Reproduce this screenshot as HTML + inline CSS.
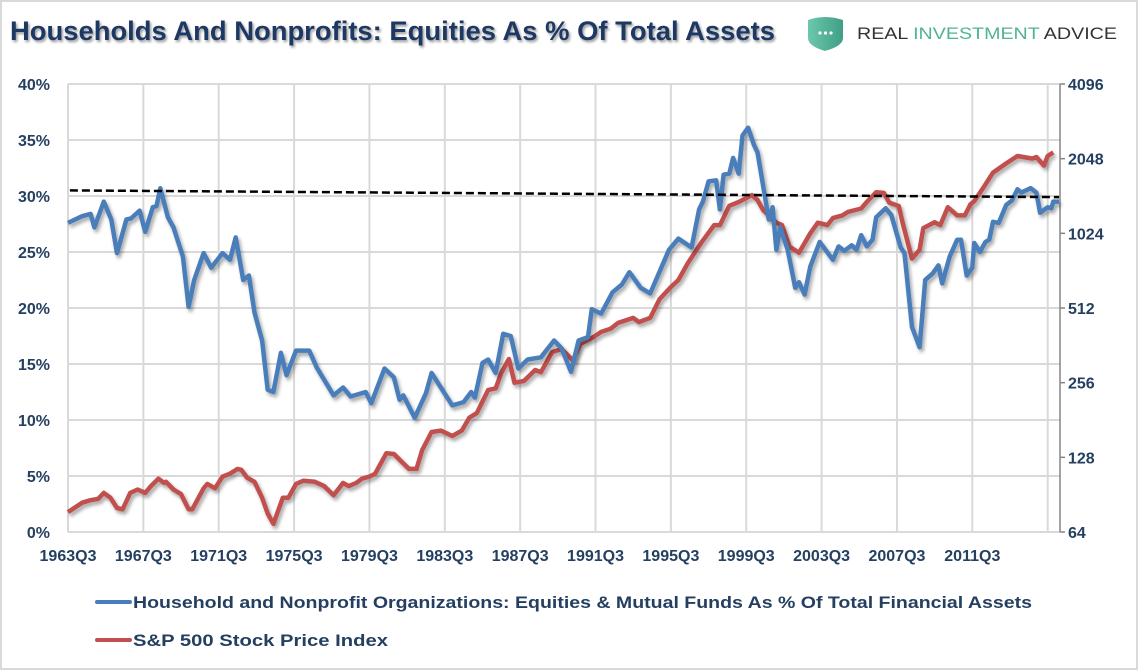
<!DOCTYPE html>
<html><head><meta charset="utf-8"><style>
html,body{margin:0;padding:0;background:#fff;}
svg{display:block;}
text{font-family:"Liberation Sans",sans-serif;}
</style></head><body>
<svg id="chart" width="1140" height="672" viewBox="0 0 1140 672" xmlns="http://www.w3.org/2000/svg">
<defs>
<filter id="sh" x="-5%" y="-5%" width="110%" height="115%"><feDropShadow dx="2" dy="3" stdDeviation="1.8" flood-color="#000" flood-opacity="0.35"/></filter>
<filter id="tsh" x="-5%" y="-20%" width="110%" height="150%"><feDropShadow dx="1.5" dy="2" stdDeviation="1.2" flood-color="#000" flood-opacity="0.4"/></filter>
<linearGradient id="shg" x1="0" x2="1"><stop offset="0" stop-color="#6cc7ae"/><stop offset="1" stop-color="#3f9f86"/></linearGradient>
</defs>
<rect x="1" y="1" width="1136" height="668" fill="#fff" stroke="#d9d9d9" stroke-width="2"/>
<text x="10" y="40" font-size="27" font-weight="bold" fill="#1f3864" textLength="765" lengthAdjust="spacingAndGlyphs" filter="url(#tsh)">Households And Nonprofits:  Equities As % Of Total Assets</text>
<g>
<path d="M808 20 Q825 14 843 20 L843 38 Q843 46 825 51 Q808 46 808 38 Z" fill="url(#shg)"/>
<circle cx="820" cy="33" r="1.6" fill="#fff"/><circle cx="825.5" cy="33" r="1.6" fill="#fff"/><circle cx="831" cy="33" r="1.6" fill="#fff"/>
<text x="857" y="39" font-size="17" textLength="260" lengthAdjust="spacingAndGlyphs" fill="#333">REAL <tspan fill="#4fb394">INVESTMENT</tspan> ADVICE</text>
</g>
<g id="grid"></g>
<g id="axes"></g>
<g id="series"></g>
<g>
<g>
<line x1="97" y1="602" x2="130" y2="602" stroke="#4a7ebb" stroke-width="4" stroke-linecap="round"/>
<text x="133" y="608" font-size="17" font-weight="bold" fill="#243f60" textLength="899" lengthAdjust="spacingAndGlyphs">Household and Nonprofit Organizations:  Equities &amp; Mutual Funds As % Of Total Financial Assets</text>
</g>
<g>
<line x1="97" y1="640" x2="130" y2="640" stroke="#c0504d" stroke-width="4" stroke-linecap="round"/>
<text x="133" y="646" font-size="17" font-weight="bold" fill="#243f60" textLength="255" lengthAdjust="spacingAndGlyphs">S&amp;P 500 Stock Price Index</text>
</g>
</g>
</svg>
<script>
const xTickLabels=["1963Q3","1967Q3","1971Q3","1975Q3","1979Q3","1983Q3","1987Q3","1991Q3","1995Q3","1999Q3","2003Q3","2007Q3","2011Q3"];
const leftTicks=[0,5,10,15,20,25,30,35,40];
const rightTicks=[64,128,256,512,1024,2048,4096];
const blueYears=[1963.5,1964.25,1964.7,1964.9,1965.4,1965.8,1966.1,1966.6,1966.85,1967.3,1967.6,1968.0,1968.2,1968.4,1968.8,1969.1,1969.6,1969.9,1970.2,1970.7,1971.1,1971.7,1972.1,1972.4,1972.8,1973.1,1973.4,1973.8,1974.1,1974.4,1974.8,1975.1,1975.6,1976.3,1976.7,1977.6,1978.1,1978.5,1979.3,1979.6,1980.3,1980.8,1981.1,1981.3,1981.9,1982.5,1982.8,1983.9,1984.5,1984.9,1985.1,1985.5,1985.8,1986.2,1986.6,1987.0,1987.4,1987.9,1988.6,1989.3,1989.7,1990.2,1990.6,1991.1,1991.3,1991.8,1992.4,1992.9,1993.3,1993.9,1994.4,1995.4,1995.9,1996.6,1997.0,1997.2,1997.5,1997.9,1998.1,1998.3,1998.6,1998.8,1999.1,1999.3,1999.6,1999.9,2000.1,2000.7,2000.9,2001.1,2001.3,2001.7,2002.1,2002.3,2002.6,2002.9,2003.4,2004.1,2004.4,2004.7,2005.1,2005.35,2005.6,2005.9,2006.2,2006.4,2006.9,2007.2,2007.7,2007.9,2008.3,2008.7,2009.0,2009.4,2009.7,2009.9,2010.3,2010.7,2010.9,2011.2,2011.5,2011.6,2011.9,2012.2,2012.4,2012.6,2012.9,2013.3,2013.6,2013.9,2014.1,2014.6,2014.9,2015.1,2015.5,2015.7,2015.8,2016.1];
const blueValues=[27.6,28.2,28.4,27.2,29.5,27.9,24.9,27.9,28.0,28.7,26.8,29.0,29.1,30.7,28.1,27.2,24.6,20.1,22.5,24.9,23.6,24.9,24.3,26.3,22.5,22.9,19.6,17.1,12.7,12.5,16.0,14.0,16.2,16.2,14.7,12.2,12.9,12.1,12.5,11.5,14.6,13.8,11.8,12.2,10.2,12.4,14.2,11.3,11.6,12.5,12.0,15.1,15.4,14.2,17.7,17.5,14.6,15.4,15.6,17.1,16.4,14.3,17.1,17.4,19.9,19.5,21.4,22.1,23.2,21.8,21.3,25.2,26.2,25.4,28.8,29.5,31.3,31.4,28.8,31.9,32.0,33.4,32.0,35.4,36.1,34.6,33.9,27.9,29.0,25.2,27.2,25.2,21.8,22.3,21.2,23.7,25.9,24.3,25.5,25.1,25.6,25.2,26.5,25.5,26.1,28.1,28.9,28.3,25.4,24.9,18.3,16.5,22.5,23.1,23.8,22.2,24.6,26.1,26.1,22.9,23.6,25.8,25.0,25.9,26.1,27.7,27.6,29.2,29.6,30.6,30.3,30.7,30.3,28.5,29.0,28.9,29.5,29.5];
const redYears=[1963.5,1964.25,1964.7,1965.1,1965.4,1965.75,1966.1,1966.4,1966.8,1967.2,1967.6,1967.9,1968.3,1968.6,1968.7,1969.1,1969.5,1969.9,1970.1,1970.7,1970.9,1971.3,1971.7,1972.1,1972.5,1972.7,1973.0,1973.4,1973.8,1974.1,1974.4,1974.9,1975.2,1975.6,1976.0,1976.6,1977.1,1977.6,1978.1,1978.4,1978.8,1979.1,1979.5,1979.8,1980.4,1980.8,1981.2,1981.6,1982.0,1982.3,1982.8,1983.3,1983.9,1984.4,1984.8,1985.2,1985.8,1986.2,1986.5,1986.9,1987.2,1987.7,1988.3,1988.6,1989.2,1989.7,1990.3,1990.7,1991.4,1991.8,1992.3,1992.7,1993.5,1993.8,1994.4,1994.9,1995.5,1995.9,1996.4,1997.1,1997.8,1998.1,1998.6,1999.1,1999.8,2000.1,2000.4,2001.1,2001.4,2001.8,2002.3,2002.9,2003.3,2003.8,2004.1,2004.6,2004.9,2005.6,2005.9,2006.4,2006.8,2007.1,2007.6,2007.8,2008.3,2008.7,2008.9,2009.5,2009.8,2010.2,2010.7,2011.1,2011.4,2011.6,2012.1,2012.6,2013.3,2013.9,2014.7,2014.9,2015.3,2015.5,2015.8,2016.1];
const redValues=[77,84,86,87,92,88,80,79,92,95,92,98,105,101,102,95,91,79,79,96,100,96,107,110,115,114,106,102,88,76,69,88,88,100,103,102,98,90,101,98,101,105,107,110,133,132,123,115,115,137,162,164,156,164,185,193,239,243,280,319,256,260,288,282,340,350,315,367,391,410,422,446,467,449,467,556,622,664,776,935,1105,1105,1322,1370,1460,1395,1270,1130,1105,905,855,1024,1130,1105,1180,1210,1250,1290,1370,1500,1490,1360,1320,1130,810,880,1075,1135,1105,1305,1210,1210,1340,1380,1570,1800,1960,2100,2050,2080,1920,2100,2170];
const trendYears=[1963.6,2016.1];
const trendValues=[30.5,29.9];

const NS="http://www.w3.org/2000/svg";
const X0=68,X1=1060,YR0=1963.5,PXY=18.84;
const PT=84,PB=532;
function xs(yr){return X0+(yr-YR0)*PXY;}
function yl(p){return PB-(p-0)/40*(PB-PT);}
function yr(v){return PB-Math.log2(v/64)/6*(PB-PT);}
function mk(tag,attrs,parent){const e=document.createElementNS(NS,tag);for(const k in attrs)e.setAttribute(k,attrs[k]);parent.appendChild(e);return e;}
const grid=document.getElementById('grid'),axes=document.getElementById('axes'),series=document.getElementById('series');

leftTicks.forEach(t=>{
  const y=yl(t);
  if(t>0){const g=mk('line',{x1:X0,x2:X1,y1:y,y2:y,stroke:'#d9d9d9','stroke-width':2},grid);
  
  }
  const tx=mk('text',{x:50,y:y+6,'text-anchor':'end','font-size':16,'font-weight':'bold',fill:'#243f60'},axes);
  tx.textContent=t+'%';
  
  
});
for(let i=0;i<=13;i++){
  const x=xs(YR0+i*4);
  const g=mk('line',{x1:x,x2:x,y1:PT,y2:PB,stroke:'#d9d9d9','stroke-width':2},grid);
  
  
}
xTickLabels.forEach((l,i)=>{
  const x=xs(YR0+i*4);
  const tx=mk('text',{x:x,y:561,'text-anchor':'middle','font-size':16,'font-weight':'bold',fill:'#243f60'},axes);
  tx.textContent=l;
  
  
});
const bl=mk('line',{x1:X0,x2:X1,y1:PB,y2:PB,stroke:'#d9d9d9','stroke-width':2},axes);


const ra=mk('line',{x1:X1,x2:X1,y1:PT,y2:PB,stroke:'#868686','stroke-width':1.5},axes);


rightTicks.forEach(t=>{
  const y=yr(t);
  mk('line',{x1:X1,x2:X1+5,y1:y,y2:y,stroke:'#868686','stroke-width':1.5},axes);
  const tx=mk('text',{x:1068,y:y+6,'font-size':16,'font-weight':'bold',fill:'#243f60'},axes);
  tx.textContent=t;
  
  
});
function path(years,vals,fy){return years.map((y,i)=>(i?'L':'M')+xs(y).toFixed(1)+' '+fy(vals[i]).toFixed(1)).join(' ');}
const red=mk('path',{d:path(redYears,redValues,yr),fill:'none',stroke:'#c0504d','stroke-width':4.5,'stroke-linejoin':'round',filter:'url(#sh)'},series);


const blue=mk('path',{d:path(blueYears,blueValues,yl),fill:'none',stroke:'#4a7ebb','stroke-width':4.5,'stroke-linejoin':'round',filter:'url(#sh)'},series);


const tr=mk('path',{d:path(trendYears,trendValues,yl),fill:'none',stroke:'#000','stroke-width':2.5,'stroke-dasharray':'8 4'},series);


</script>
</body></html>
